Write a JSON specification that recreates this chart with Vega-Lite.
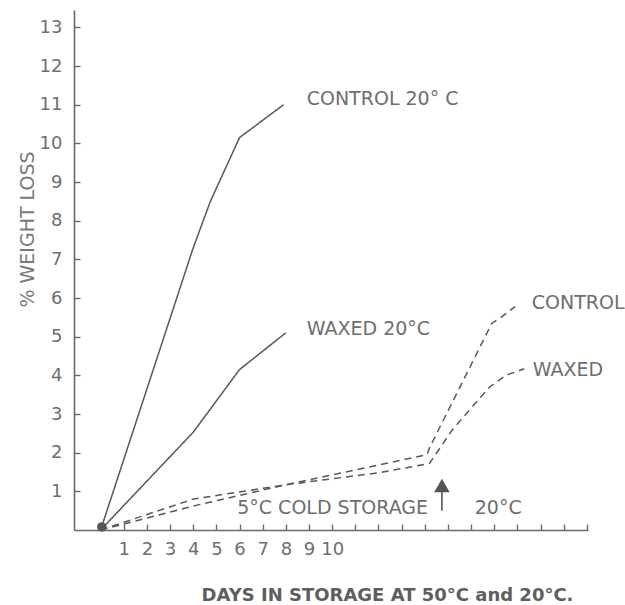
{
  "$schema": "https://vega.github.io/schema/vega-lite/v6.json",
  "width": 514,
  "height": 520,
  "autosize": {"type": "none"},
  "padding": {"left": 74, "top": 10, "right": 37, "bottom": 75},
  "background": "white",
  "config": {
    "view": {"stroke": null},
    "font": "DejaVu Sans",
    "axis": {
      "grid": false,
      "domainColor": "#6a6a6a",
      "domainWidth": 1.6,
      "tickColor": "#6a6a6a",
      "tickWidth": 1.4,
      "tickSize": -6,
      "labelFont": "DejaVu Sans",
      "labelFontSize": 18,
      "labelColor": "#6e6e6e",
      "labelFontWeight": "normal"
    }
  },
  "datasets": {
    "curves": [
      {"series": "Control 20°C", "day": 0, "loss": 0},
      {"series": "Control 20°C", "day": 4, "loss": 7.3},
      {"series": "Control 20°C", "day": 4.74, "loss": 8.5},
      {"series": "Control 20°C", "day": 6, "loss": 10.15},
      {"series": "Control 20°C", "day": 7.9, "loss": 11.0},
      {"series": "Waxed 20°C", "day": 0, "loss": 0},
      {"series": "Waxed 20°C", "day": 4, "loss": 2.53},
      {"series": "Waxed 20°C", "day": 6, "loss": 4.15},
      {"series": "Waxed 20°C", "day": 8, "loss": 5.1},
      {"series": "Control cold", "day": 0, "loss": 0},
      {"series": "Control cold", "day": 4, "loss": 0.62},
      {"series": "Control cold", "day": 8, "loss": 1.17},
      {"series": "Control cold", "day": 12, "loss": 1.68},
      {"series": "Control cold", "day": 14.1, "loss": 1.95},
      {"series": "Control cold", "day": 14.2, "loss": 2.12},
      {"series": "Control cold", "day": 16.9, "loss": 5.35},
      {"series": "Control cold", "day": 17.3, "loss": 5.5},
      {"series": "Control cold", "day": 17.9, "loss": 5.78},
      {"series": "Waxed cold", "day": 0, "loss": 0},
      {"series": "Waxed cold", "day": 4, "loss": 0.8},
      {"series": "Waxed cold", "day": 8, "loss": 1.17},
      {"series": "Waxed cold", "day": 12, "loss": 1.48},
      {"series": "Waxed cold", "day": 14.2, "loss": 1.72},
      {"series": "Waxed cold", "day": 15.2, "loss": 2.6},
      {"series": "Waxed cold", "day": 16.8, "loss": 3.7},
      {"series": "Waxed cold", "day": 17.5, "loss": 4.0},
      {"series": "Waxed cold", "day": 18.3, "loss": 4.17}
    ],
    "notes": [
      {"label": "CONTROL 20° C", "day": 8.9, "loss": 11.16},
      {"label": "WAXED 20°C", "day": 8.9, "loss": 5.19},
      {"label": "CONTROL", "day": 18.62, "loss": 5.87},
      {"label": "WAXED", "day": 18.66, "loss": 4.13},
      {"label": "5°C COLD STORAGE", "day": 5.9, "loss": 0.57},
      {"label": "20°C", "day": 16.16, "loss": 0.57}
    ],
    "arrow": [
      {"day": 14.74, "from": 0.5, "to": 1.15}
    ]
  },
  "encoding": {
    "x": {
      "field": "day",
      "type": "quantitative",
      "scale": {"domain": [-1.15, 21.05], "nice": false, "zero": false},
      "axis": {
        "title": "DAYS IN STORAGE AT 50°C and 20°C.",
        "titleFont": "DejaVu Sans",
        "titleFontSize": 18,
        "titleFontWeight": "bold",
        "titleColor": "#5e5e5e",
        "titleX": 313,
        "titleY": 65,
        "titleAlign": "center",
        "titleBaseline": "middle",
        "values": [1,2,3,4,5,6,7,8,9,10,11,12,13,14,15,16,17,18,19,20,21],
        "labelExpr": "datum.value <= 10 ? datum.label : ''",
        "labelPadding": 16,
        "labelBaseline": "top"
      }
    },
    "y": {
      "field": "loss",
      "type": "quantitative",
      "scale": {"domain": [0, 13.45], "nice": false},
      "axis": {
        "title": "% WEIGHT LOSS",
        "titleFont": "DejaVu Sans",
        "titleFontSize": 19,
        "titleFontWeight": "normal",
        "titleColor": "#7a7a7a",
        "titleX": -47,
        "titleY": 219,
        "titleAlign": "center",
        "titleBaseline": "middle",
        "titleAngle": -90,
        "values": [1,2,3,4,5,6,7,8,9,10,11,12,13],
        "labelPadding": 18
      }
    }
  },
  "layer": [
    {
      "data": {"name": "curves"},
      "mark": {"type": "line", "color": "#585858", "strokeWidth": 1.5},
      "encoding": {
        "detail": {"field": "series"},
        "strokeDash": {
          "field": "series",
          "type": "nominal",
          "scale": {
            "domain": ["Control 20°C", "Waxed 20°C", "Control cold", "Waxed cold"],
            "range": [[1, 0], [1, 0], [7, 5], [7, 5]]
          },
          "legend": null
        }
      }
    },
    {
      "data": {"name": "notes"},
      "mark": {"type": "text", "align": "left", "baseline": "middle", "fontSize": 19, "color": "#6e6e6e", "font": "DejaVu Sans"},
      "encoding": {"text": {"field": "label"}}
    },
    {
      "data": {"name": "arrow"},
      "mark": {"type": "rule", "color": "#555555", "strokeWidth": 1.6},
      "encoding": {"y": {"field": "from", "type": "quantitative"}, "y2": {"field": "to"}}
    },
    {
      "data": {"name": "arrow"},
      "mark": {"type": "point", "shape": "triangle-up", "filled": true, "color": "#555555", "opacity": 1, "size": 240},
      "encoding": {"y": {"field": "to", "type": "quantitative"}, "yOffset": {"value": 0}}
    },
    {
      "data": {"values": [{"day": 0.05, "loss": 0.08}]},
      "mark": {"type": "point", "shape": "circle", "filled": true, "color": "#555555", "opacity": 1, "size": 90},
      "encoding": {}
    }
  ]
}
